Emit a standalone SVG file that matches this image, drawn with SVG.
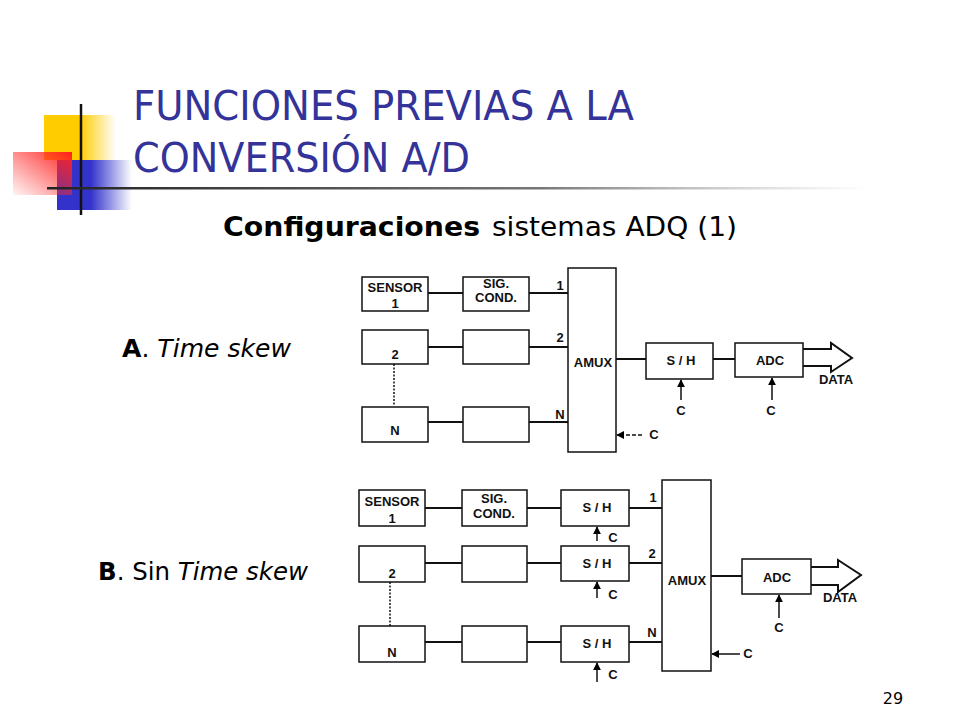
<svg xmlns="http://www.w3.org/2000/svg" width="960" height="720" viewBox="0 0 960 720">
<defs>
<linearGradient id="gy" x1="0" x2="1" y1="0" y2="0"><stop offset="0" stop-color="#FFCC00"/><stop offset="0.5" stop-color="#FFCC00"/><stop offset="1" stop-color="#FFCC00" stop-opacity="0"/></linearGradient>
<linearGradient id="gb" x1="0" x2="1" y1="0" y2="0"><stop offset="0" stop-color="#3333CC"/><stop offset="0.45" stop-color="#3333CC"/><stop offset="1" stop-color="#3333CC" stop-opacity="0"/></linearGradient>
<linearGradient id="gr" x1="1" x2="0" y1="0" y2="1"><stop offset="0" stop-color="#FF2020"/><stop offset="1" stop-color="#FF3030" stop-opacity="0.05"/></linearGradient>
<linearGradient id="gl" x1="0" x2="1" y1="0" y2="0"><stop offset="0" stop-color="#222"/><stop offset="0.6" stop-color="#777"/><stop offset="1" stop-color="#aaa" stop-opacity="0"/></linearGradient>
<marker id="ah" viewBox="0 0 10 10" refX="9" refY="5" markerWidth="8" markerHeight="8" markerUnits="userSpaceOnUse" orient="auto"><path d="M0,0 L10,5 L0,10 z" fill="#000"/></marker>
</defs>
<style>
.bx{fill:#fff;stroke:#111;stroke-width:1.5}
.ln{stroke:#111;stroke-width:2;fill:none}
.dot{stroke:#111;stroke-width:1.5;stroke-dasharray:2,1.5;fill:none}
.ca{stroke:#111;stroke-width:1.5;fill:none;marker-end:url(#ah)}
.cd{stroke:#111;stroke-width:1.5;stroke-dasharray:4,2;fill:none;marker-end:url(#ah)}
.t{font-family:"Liberation Sans",Arial,sans-serif;font-weight:bold;font-size:13px;fill:#111;text-anchor:middle}
.big{fill:#fff;stroke:#111;stroke-width:2}
</style>
<rect width="960" height="720" fill="#fff"/>
<g id="deco">
<rect x="44" y="115" width="72" height="45" fill="url(#gy)"/>
<rect x="57" y="160" width="75" height="50" fill="url(#gb)"/>
<rect x="13" y="152" width="59" height="43" fill="url(#gr)"/>
<line x1="81" y1="104" x2="81" y2="215" stroke="#111" stroke-width="2.5"/>
<rect x="47" y="187" width="823" height="2.5" fill="url(#gl)"/>
</g>
<g id="title" font-family="'DejaVu Sans',Verdana,sans-serif" fill="#333399" font-size="40">
<text x="133" y="120" textLength="501" lengthAdjust="spacingAndGlyphs">FUNCIONES PREVIAS A LA</text>
<text x="133" y="172" textLength="337" lengthAdjust="spacingAndGlyphs">CONVERSIÓN A/D</text>
</g>
<g id="subtitle" font-family="'DejaVu Sans',Verdana,sans-serif" fill="#000" font-size="26">
<text x="223" y="236" font-weight="bold" textLength="257" lengthAdjust="spacingAndGlyphs">Configuraciones</text>
<text x="492" y="236" textLength="245" lengthAdjust="spacingAndGlyphs">sistemas ADQ (1)</text>
</g>
<g id="labelA" font-family="'DejaVu Sans',Verdana,sans-serif" fill="#000" font-size="25">
<text x="122" y="357" textLength="169" lengthAdjust="spacingAndGlyphs"><tspan font-weight="bold">A</tspan>. <tspan font-style="italic">Time skew</tspan></text>
</g>
<g id="labelB" font-family="'DejaVu Sans',Verdana,sans-serif" fill="#000" font-size="25">
<text x="98" y="580" textLength="210" lengthAdjust="spacingAndGlyphs"><tspan font-weight="bold">B</tspan>. Sin <tspan font-style="italic">Time skew</tspan></text>
</g>
<text x="893" y="704" font-family="'DejaVu Sans',Verdana,sans-serif" font-size="16" fill="#000" text-anchor="middle">29</text>

<g id="connectorsA">
<line class="ln" x1="428" y1="293" x2="463" y2="293"/>
<line class="ln" x1="529" y1="293" x2="568" y2="293"/>
<line class="ln" x1="428" y1="347" x2="463" y2="347"/>
<line class="ln" x1="529" y1="347" x2="568" y2="347"/>
<line class="ln" x1="428" y1="422" x2="463" y2="422"/>
<line class="ln" x1="529" y1="422" x2="568" y2="422"/>
<line class="dot" x1="394" y1="364" x2="394" y2="406"/>
<line class="ln" x1="616" y1="359" x2="646" y2="359"/>
<line class="ln" x1="713" y1="359" x2="735" y2="359"/>
<line class="ca" x1="681" y1="400" x2="681" y2="380"/>
<line class="ca" x1="772" y1="400" x2="772" y2="378"/>
<line class="cd" x1="642" y1="435" x2="617" y2="435"/>
<path class="big" d="M803,349 H831 V343 L852,358 L831,372 V366 H803"/>
<text class="t" x="560" y="290">1</text>
<text class="t" x="560" y="342">2</text>
<text class="t" x="560" y="419">N</text>
<text class="t" x="681" y="415">C</text>
<text class="t" x="771" y="415">C</text>
<text class="t" x="654" y="439">C</text>
<text class="t" x="836" y="384">DATA</text>
</g>
<g id="a-sensor1"><rect class="bx" x="362" y="277" width="66" height="34"/><text class="t" x="395" y="292">SENSOR</text><text class="t" x="395" y="308">1</text></g>
<g id="a-sig1"><rect class="bx" x="463" y="277" width="66" height="34"/><text class="t" x="496" y="288">SIG.</text><text class="t" x="496" y="302">COND.</text></g>
<g id="a-sensor2"><rect class="bx" x="362" y="330" width="66" height="34"/><text class="t" x="395" y="359">2</text></g>
<g id="a-sig2"><rect class="bx" x="463" y="330" width="66" height="34"/></g>
<g id="a-sensorN"><rect class="bx" x="362" y="407" width="66" height="35"/><text class="t" x="395" y="435">N</text></g>
<g id="a-sigN"><rect class="bx" x="463" y="407" width="66" height="35"/></g>
<g id="a-amux"><rect class="bx" x="568" y="268" width="48" height="184"/><text class="t" x="593" y="367">AMUX</text></g>
<g id="a-sh"><rect class="bx" x="646" y="343" width="67" height="36"/><text class="t" x="681" y="365">S / H</text></g>
<g id="a-adc"><rect class="bx" x="735" y="343" width="68" height="34"/><text class="t" x="770" y="365">ADC</text></g>

<g id="connectorsB">
<line class="ln" x1="425" y1="508" x2="462" y2="508"/>
<line class="ln" x1="527" y1="508" x2="561" y2="508"/>
<line class="ln" x1="629" y1="508" x2="662" y2="508"/>
<line class="ln" x1="425" y1="563" x2="462" y2="563"/>
<line class="ln" x1="527" y1="563" x2="561" y2="563"/>
<line class="ln" x1="629" y1="563" x2="662" y2="563"/>
<line class="ln" x1="425" y1="642" x2="462" y2="642"/>
<line class="ln" x1="527" y1="642" x2="561" y2="642"/>
<line class="ln" x1="629" y1="642" x2="662" y2="642"/>
<line class="dot" x1="390" y1="582" x2="390" y2="626"/>
<line class="ca" x1="597" y1="541" x2="597" y2="527"/>
<line class="ca" x1="597" y1="598" x2="597" y2="582"/>
<line class="ca" x1="597" y1="682" x2="597" y2="663"/>
<line class="ln" x1="711" y1="576" x2="742" y2="576"/>
<line class="ca" x1="779" y1="618" x2="779" y2="595"/>
<line class="ca" x1="740" y1="654" x2="712" y2="654"/>
<path class="big" d="M811,567 H838 V560 L861,575 L838,592 V585 H811"/>
<text class="t" x="653" y="502">1</text>
<text class="t" x="652" y="558">2</text>
<text class="t" x="652" y="637">N</text>
<text class="t" x="613" y="542">C</text>
<text class="t" x="613" y="599">C</text>
<text class="t" x="613" y="679">C</text>
<text class="t" x="779" y="632">C</text>
<text class="t" x="748" y="658">C</text>
<text class="t" x="840" y="602">DATA</text>
</g>
<g id="b-sensor1"><rect class="bx" x="359" y="490" width="66" height="36"/><text class="t" x="392" y="506">SENSOR</text><text class="t" x="392" y="523">1</text></g>
<g id="b-sig1"><rect class="bx" x="462" y="490" width="65" height="36"/><text class="t" x="494" y="503">SIG.</text><text class="t" x="494" y="518">COND.</text></g>
<g id="b-sh1"><rect class="bx" x="561" y="490" width="68" height="36"/><text class="t" x="597" y="512">S / H</text></g>
<g id="b-sensor2"><rect class="bx" x="359" y="546" width="66" height="36"/><text class="t" x="392" y="578">2</text></g>
<g id="b-sig2"><rect class="bx" x="462" y="546" width="65" height="36"/></g>
<g id="b-sh2"><rect class="bx" x="561" y="546" width="68" height="35"/><text class="t" x="597" y="568">S / H</text></g>
<g id="b-sensorN"><rect class="bx" x="359" y="626" width="66" height="36"/><text class="t" x="392" y="657">N</text></g>
<g id="b-sigN"><rect class="bx" x="462" y="626" width="65" height="36"/></g>
<g id="b-shN"><rect class="bx" x="561" y="626" width="68" height="36"/><text class="t" x="597" y="648">S / H</text></g>
<g id="b-amux"><rect class="bx" x="662" y="480" width="49" height="191"/><text class="t" x="687" y="585">AMUX</text></g>
<g id="b-adc"><rect class="bx" x="742" y="559" width="69" height="35"/><text class="t" x="777" y="582">ADC</text></g>
</svg>
